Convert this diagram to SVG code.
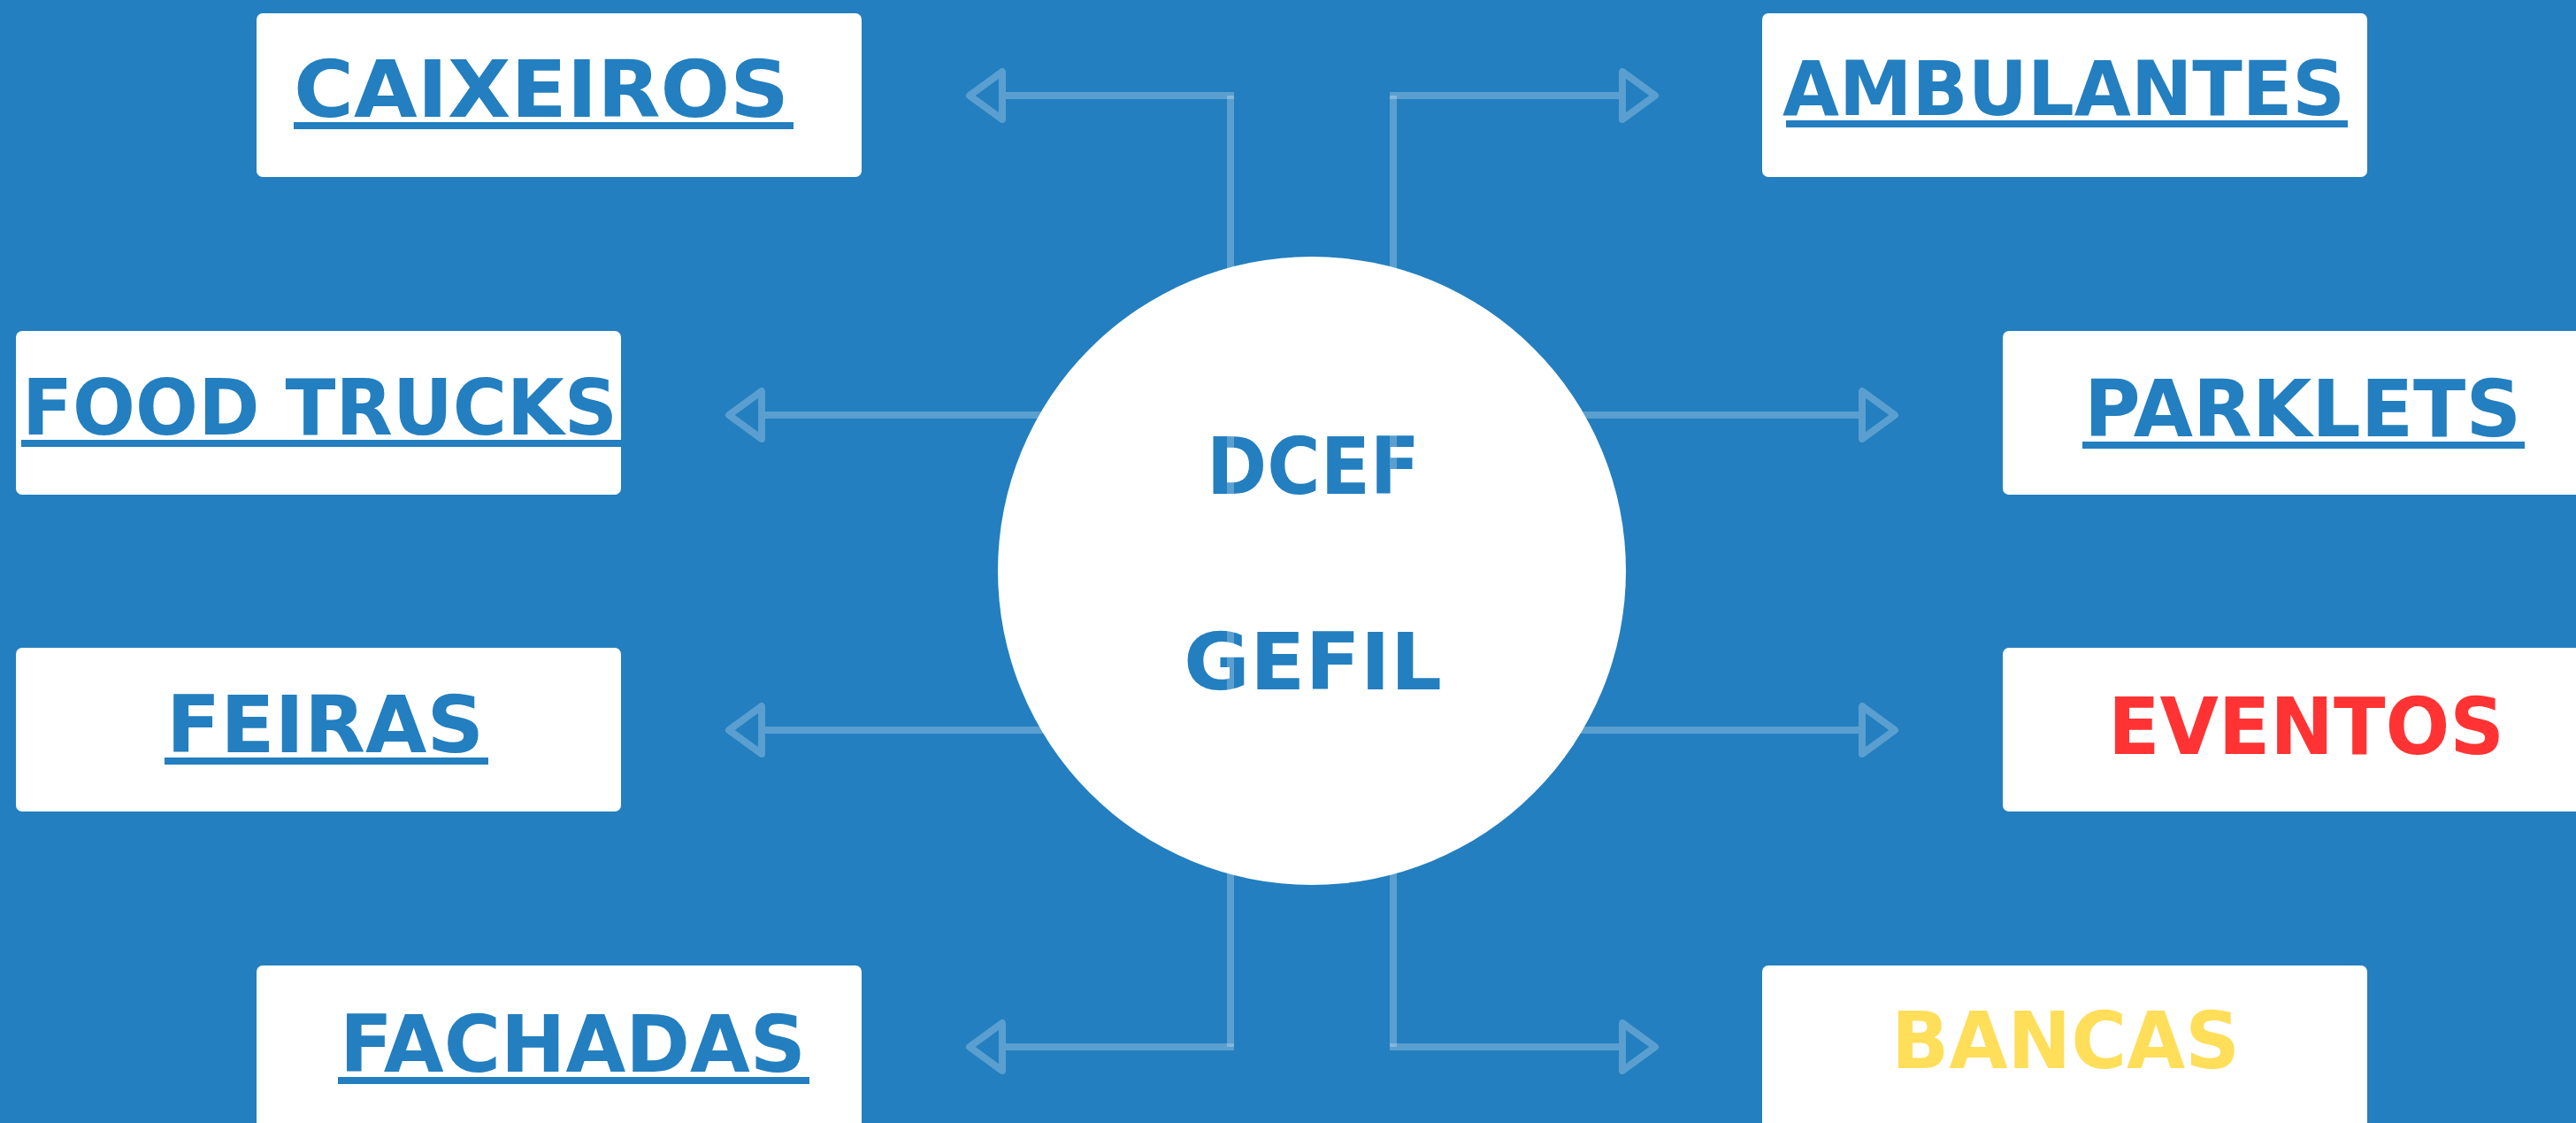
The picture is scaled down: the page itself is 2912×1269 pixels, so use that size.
<svg xmlns="http://www.w3.org/2000/svg" width="2912" height="1269" viewBox="0 0 2912 1269">
<style>
.box{fill:#ffffff}
.lbl{font-family:"DejaVu Sans","Liberation Sans",sans-serif;font-weight:bold;font-size:89px;fill:#237FBF}
.ul{fill:#237FBF}
.conn line{stroke:#ffffff;stroke-opacity:0.25;stroke-width:8;stroke-linecap:butt}
.conn use{fill:none;stroke:#ffffff;stroke-opacity:0.25;stroke-width:8;stroke-linejoin:round}
</style>
<defs>
<path id="ahL" d="M0,-27 L0,27 L-37,0 Z"/>
<path id="ahR" d="M0,-27 L0,27 L37,0 Z"/>
</defs>
<rect width="2912" height="1269" fill="#237FBF"/>

<g id="node-center">
<circle cx="1483" cy="645" r="355" fill="#ffffff"/>
<text class="lbl" x="1364" y="558" textLength="241" lengthAdjust="spacingAndGlyphs">DCEF</text>
<text class="lbl" x="1338" y="779" textLength="292" lengthAdjust="spacingAndGlyphs">GEFIL</text>
</g>

<g id="node-caixeiros">
<rect class="box" x="290" y="15" width="684" height="185" rx="7"/>
<text class="lbl" x="332" y="132" textLength="560" lengthAdjust="spacingAndGlyphs">CAIXEIROS</text>
<rect class="ul" x="332" y="138" width="565" height="8"/>
</g>

<g id="node-ambulantes">
<rect class="box" x="1992" y="15" width="684" height="185" rx="7"/>
<text class="lbl" style="font-size:85px" x="2015" y="130" textLength="636" lengthAdjust="spacingAndGlyphs">AMBULANTES</text>
<rect class="ul" x="2019" y="136" width="635" height="8"/>
</g>

<g id="node-foodtrucks">
<rect class="box" x="18" y="374" width="684" height="185" rx="7"/>
<text class="lbl" style="font-size:87px" x="25" y="491" textLength="673" lengthAdjust="spacingAndGlyphs">FOOD TRUCKS</text>
<rect class="ul" x="24" y="497" width="678" height="8"/>
</g>

<g id="node-parklets">
<rect class="box" x="2264" y="374" width="684" height="185" rx="7"/>
<text class="lbl" x="2356" y="493" textLength="494" lengthAdjust="spacingAndGlyphs">PARKLETS</text>
<rect class="ul" x="2354" y="499" width="500" height="8"/>
</g>

<g id="node-feiras">
<rect class="box" x="18" y="732" width="684" height="185" rx="7"/>
<text class="lbl" x="188" y="850" textLength="359" lengthAdjust="spacingAndGlyphs">FEIRAS</text>
<rect class="ul" x="186" y="856" width="366" height="8"/>
</g>

<g id="node-eventos">
<rect class="box" x="2264" y="732" width="684" height="185" rx="7"/>
<text class="lbl" style="fill:#FF3333" x="2383" y="852" textLength="448" lengthAdjust="spacingAndGlyphs">EVENTOS</text>
</g>

<g id="node-fachadas">
<rect class="box" x="290" y="1091" width="684" height="185" rx="7"/>
<text class="lbl" x="384" y="1211" textLength="527" lengthAdjust="spacingAndGlyphs">FACHADAS</text>
<rect class="ul" x="382" y="1217" width="533" height="8"/>
</g>

<g id="node-bancas">
<rect class="box" x="1992" y="1091" width="684" height="185" rx="7"/>
<text class="lbl" style="fill:#FFDE59" x="2138" y="1207" textLength="394" lengthAdjust="spacingAndGlyphs">BANCAS</text>
</g>

<g id="connectors" class="conn">
<line x1="1391" y1="108" x2="1391" y2="1183"/>
<line x1="1575" y1="108" x2="1575" y2="1183"/>
<line x1="1137" y1="108" x2="1395" y2="108"/>
<line x1="1571" y1="108" x2="1830" y2="108"/>
<line x1="1137" y1="1183" x2="1395" y2="1183"/>
<line x1="1571" y1="1183" x2="1830" y2="1183"/>
<line x1="865" y1="469" x2="2101" y2="469"/>
<line x1="865" y1="825" x2="2101" y2="825"/>
<use href="#ahL" x="1133" y="108"/>
<use href="#ahR" x="1834" y="108"/>
<use href="#ahL" x="861" y="469"/>
<use href="#ahR" x="2105" y="469"/>
<use href="#ahL" x="861" y="825"/>
<use href="#ahR" x="2105" y="825"/>
<use href="#ahL" x="1133" y="1183"/>
<use href="#ahR" x="1834" y="1183"/>
</g>
</svg>
